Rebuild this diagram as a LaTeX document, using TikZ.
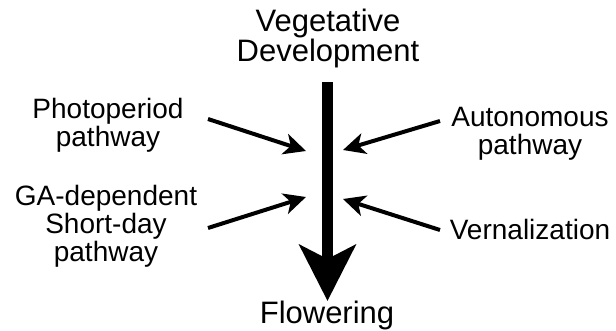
\documentclass[tikz,border=0pt]{standalone}
\usepackage{fontspec}
\setmainfont{Liberation Sans}
\usetikzlibrary{arrows.meta}
\begin{document}
\begin{tikzpicture}[x=1pt,y=-1pt,
  big/.style={font=\fontsize{31}{26}\selectfont, align=center, inner sep=0pt, anchor=base},
  side/.style={font=\fontsize{28}{28}\selectfont, align=center, inner sep=0pt, anchor=base},
  mainarrow/.style={line width=11pt, -{Stealth[length=56pt,width=56pt,inset=14pt]}},
  inarrow/.style={line width=4pt, -{Stealth[length=22pt,width=21pt,inset=6pt]}}]
\useasboundingbox (0,0) rectangle (616,330);
\node[big] (veg) at (328,61) {Vegetative\\Development};
\node[big] (flow) at (327,323) {Flowering};
\node[side] (photo) at (108,146) {Photoperiod\\pathway};
\node[side] (auto) at (530,154) {Autonomous\\pathway};
\node[side] (ga) at (106,261) {GA-dependent\\Short-day\\pathway};
\node[side] (vern) at (530,239) {Vernalization};
\coordinate (mtop) at (327.5,82);
\coordinate (mbot) at (327.5,301);
\draw[mainarrow] (mtop) -- (mbot);
\coordinate (p1) at (208,119); \coordinate (p2) at (306,151);
\coordinate (g1) at (208,228); \coordinate (g2) at (306,197);
\coordinate (a1) at (440,121); \coordinate (a2) at (343,150);
\coordinate (v1) at (440,230); \coordinate (v2) at (343,199);
\draw[inarrow] (p1) -- (p2);
\draw[inarrow] (g1) -- (g2);
\draw[inarrow] (a1) -- (a2);
\draw[inarrow] (v1) -- (v2);
\end{tikzpicture}
\end{document}
